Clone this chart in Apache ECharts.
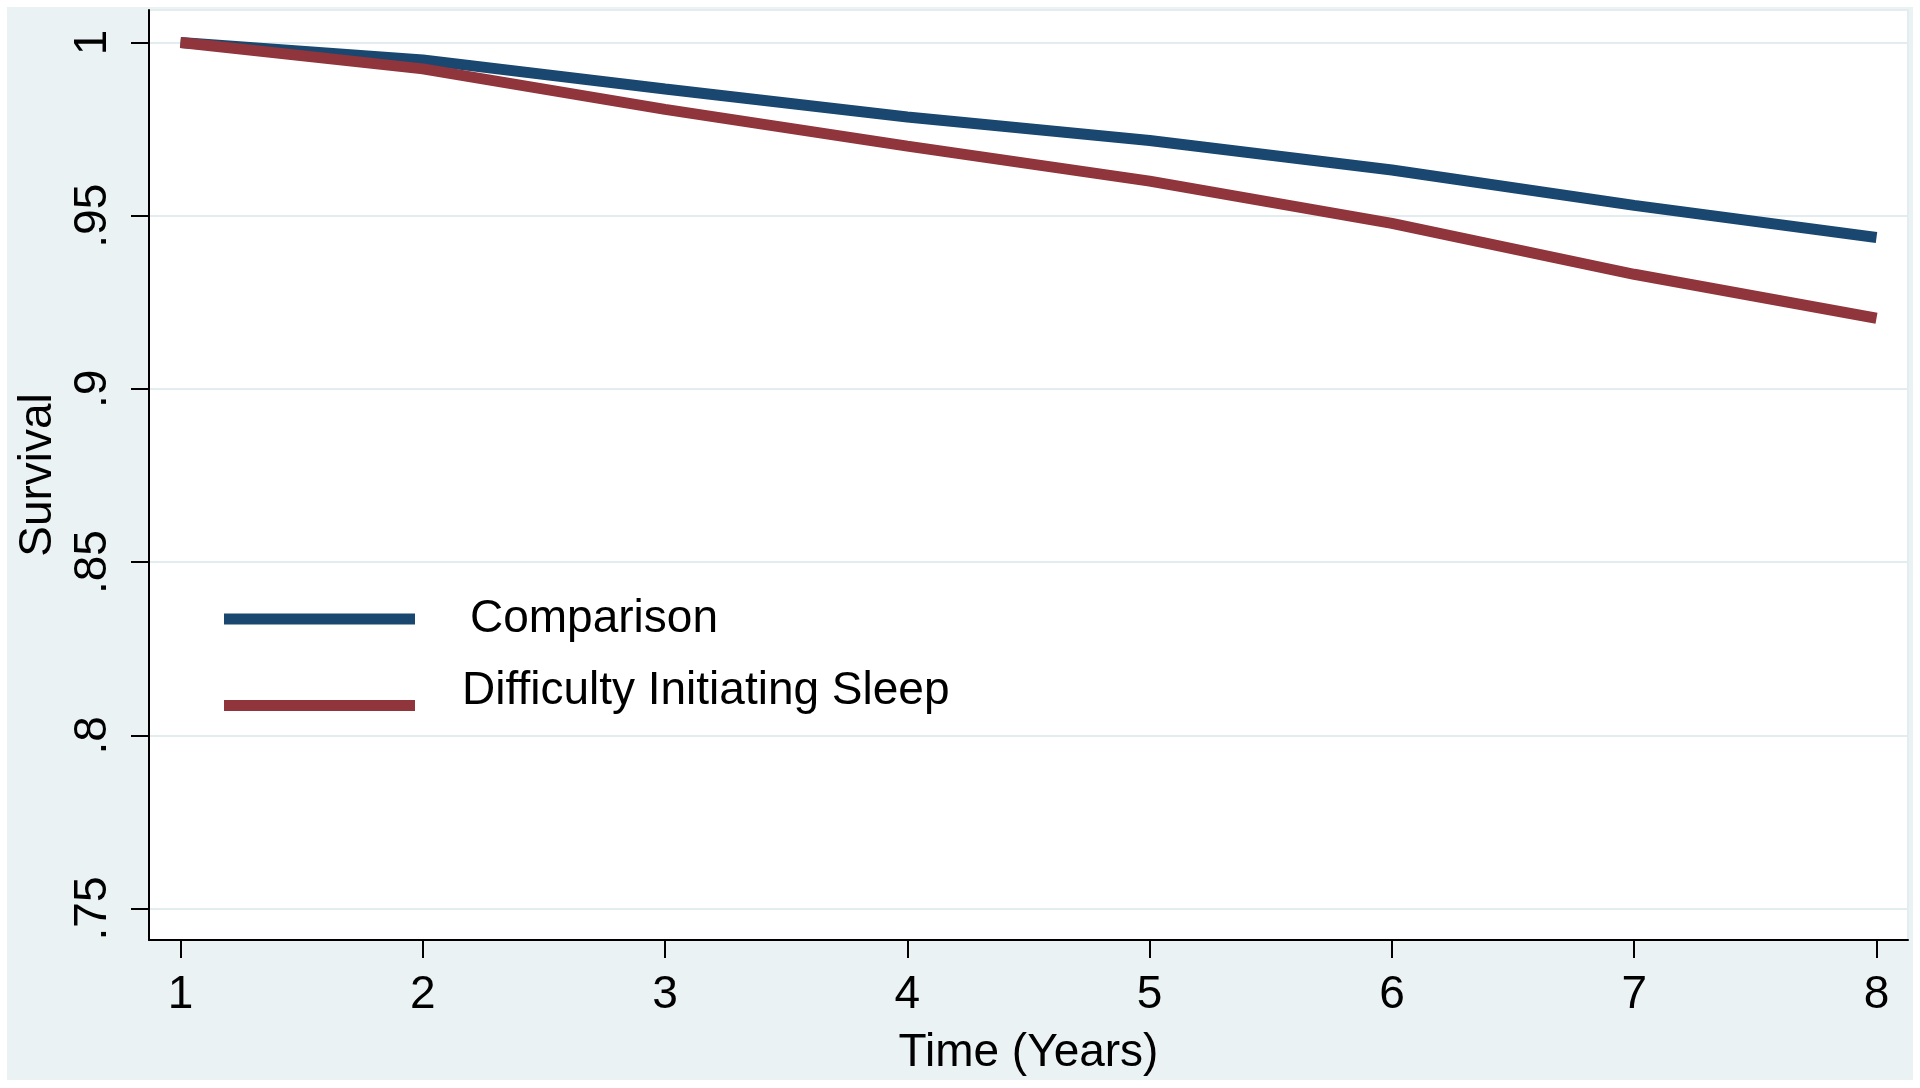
<!DOCTYPE html>
<html><head><meta charset="utf-8">
<script src="https://cdn.jsdelivr.net/npm/echarts@6/dist/echarts.min.js"></script>
<style>html,body{margin:0;padding:0;background:#fff;}#c{width:1920px;height:1088px;}</style>
</head><body><div id="c"></div>
<script>
const years = [1, 2, 3, 4, 5, 6, 7, 8];
const comparison = [1.0, 0.995, 0.9866, 0.9785, 0.9717, 0.9632, 0.9530, 0.9437];
const difficulty = [1.0, 0.9924, 0.9807, 0.9701, 0.960, 0.9478, 0.9331, 0.9204];
const xTicks = [1, 2, 3, 4, 5, 6, 7, 8];
const yTicks = [0.75, 0.8, 0.85, 0.9, 0.95, 1];
const yTickLabels = ['.75', '.8', '.85', '.9', '.95', '1'];
const seriesNames = ['Comparison', 'Difficulty Initiating Sleep'];
const colors = ['#1a476f', '#90353b'];

const FONT = 'Liberation Sans, Arial, Helvetica, sans-serif';
const chart = echarts.init(document.getElementById('c'), null, {renderer: 'canvas'});

function yLabel(v) {
  const i = yTicks.findIndex(t => Math.abs(t - v) < 1e-6);
  return i >= 0 ? yTickLabels[i] : '';
}

const option = {
  backgroundColor: '#ffffff',
  animation: false,
  graphic: [{
    type: 'rect', z: -10, silent: true,
    shape: {x: 7, y: 7, width: 1906, height: 1073},
    style: {fill: '#eaf2f3'}
  }],
  grid: {
    left: 149, right: 12, top: 10, bottom: 148,
    show: true, backgroundColor: '#ffffff', borderColor: '#e3edef', borderWidth: 2,
    containLabel: false
  },
  legend: [{
    data: [seriesNames[0]],
    left: 219, top: 591, orient: 'vertical',
    icon: 'rect', itemWidth: 191, itemHeight: 11,
    textStyle: {fontFamily: FONT, fontSize: 46, color: '#000', padding: [0, 0, 0, 50]},
    selectedMode: false
  }, {
    data: [seriesNames[1]],
    left: 219, top: 663, orient: 'vertical',
    icon: 'rect', itemWidth: 191, itemHeight: 11,
    formatter: name => name + '\n',
    textStyle: {fontFamily: FONT, fontSize: 46, lineHeight: 29, color: '#000', padding: [0, 0, 0, 42]},
    selectedMode: false
  }],
  xAxis: {
    type: 'value', min: 0.87, max: 8.13,
    name: 'Time (Years)', nameLocation: 'middle', nameGap: 90,
    nameTextStyle: {fontFamily: FONT, fontSize: 46, color: '#000'},
    axisLine: {show: true, onZero: false, lineStyle: {color: '#000', width: 2}},
    axisTick: {show: true, length: 18, lineStyle: {color: '#000', width: 2}, customValues: xTicks},
    axisLabel: {fontFamily: FONT, fontSize: 46, color: '#000', margin: 32, customValues: xTicks},
    splitLine: {show: false}
  },
  yAxis: {
    type: 'value', min: 0.7409, max: 1.0094,
    name: 'Survival', nameLocation: 'middle', nameGap: 88, nameRotate: 90,
    nameTextStyle: {fontFamily: FONT, fontSize: 46, color: '#000'},
    axisLine: {show: true, onZero: false, lineStyle: {color: '#000', width: 2}},
    axisTick: {show: true, length: 18, lineStyle: {color: '#000', width: 2}, customValues: yTicks},
    axisLabel: {fontFamily: FONT, fontSize: 46, color: '#000', margin: 33, rotate: 90,
      customValues: yTicks, formatter: yLabel},
    splitLine: {show: true, lineStyle: {color: '#e3edef', width: 2}}
  },
  series: [{
    name: seriesNames[0], type: 'line', color: colors[0],
    data: years.map((x, i) => [x, comparison[i]]),
    symbol: 'none', lineStyle: {width: 11, color: colors[0], cap: 'butt'}, z: 2
  }, {
    name: seriesNames[1], type: 'line', color: colors[1],
    data: years.map((x, i) => [x, difficulty[i]]),
    symbol: 'none', lineStyle: {width: 11, color: colors[1], cap: 'butt'}, z: 3
  }]
};
chart.setOption(option);
</script>
</body></html>
